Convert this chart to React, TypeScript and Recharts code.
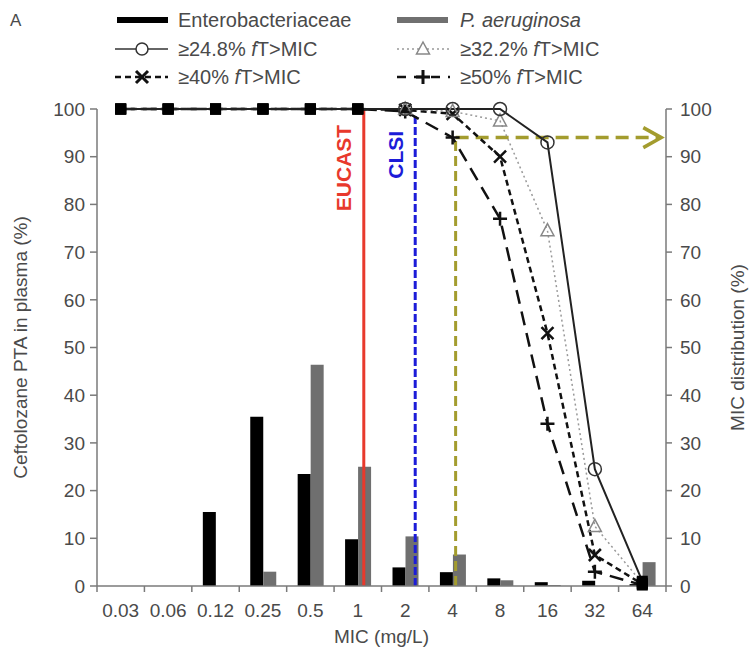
import React from "react";
import { Bar, ComposedChart, Label, Line, ReferenceLine, XAxis, YAxis } from "recharts";

// MIC categories (mg/L)
const CATS = ["0.03", "0.06", "0.12", "0.25", "0.5", "1", "2", "4", "8", "16", "32", "64"];
// MIC distribution (%), right axis
const ENTERO = [0, 0, 15.5, 35.5, 23.5, 9.8, 3.9, 2.9, 1.6, 0.8, 1.1, 0.4];
const PAERU = [0, 0, 0, 3, 46.4, 25, 10.4, 6.6, 1.2, 0.2, 0, 5];
// PTA (%), left axis
const PTA_248 = [100, 100, 100, 100, 100, 100, 100, 100, 100, 93, 24.5, 1];
const PTA_322 = [100, 100, 100, 100, 100, 100, 100, 99.5, 97.5, 74.5, 12.5, 0.6];
const PTA_40 = [100, 100, 100, 100, 100, 100, 99.8, 99, 90, 53, 6.5, 0.4];
const PTA_50 = [100, 100, 100, 100, 100, 100, 99.5, 94, 77, 34, 3, 0.2];
const Y_TICKS = [0, 10, 20, 30, 40, 50, 60, 70, 80, 90, 100];

// breakpoints
const EUCAST_MIC = "1";
const CLSI_MIC = "2";
const TARGET_MIC = "4";
const TARGET_PTA = 94;

const data = CATS.map((mic, i) => ({
  mic,
  entero: ENTERO[i],
  paeru: PAERU[i],
  p248: PTA_248[i],
  p322: PTA_322[i],
  p40: PTA_40[i],
  p50: PTA_50[i],
}));

const FONT = "'Liberation Sans', Arial, sans-serif";
const TXT = "#4a4a4a";
const AXIS = "#7a7a7a";
const OLIVE = "#a39c2e";

const isSquare = (i: number) => i <= 5 || i === CATS.length - 1;

function makeDot(kind: string) {
  return (props: any) => {
    const { cx, cy, index } = props;
    const k = `${kind}-${index}`;
    if (cx == null || cy == null) return <g key={k} />;
    if (isSquare(index)) return <rect key={k} x={cx - 5.5} y={cy - 5.5} width={11} height={11} fill="#000" />;
    if (kind === "circle") return <circle key={k} cx={cx} cy={cy} r={6.5} fill="none" stroke="#333" strokeWidth={1.5} />;
    if (kind === "tri")
      return (
        <path key={k} d={`M${cx},${cy - 7} L${cx + 6.5},${cy + 5} L${cx - 6.5},${cy + 5} Z`} fill="none" stroke="#888" strokeWidth={1.5} />
      );
    if (kind === "x")
      return (
        <path key={k} d={`M${cx - 6},${cy - 6} L${cx + 6},${cy + 6} M${cx + 6},${cy - 6} L${cx - 6},${cy + 6}`} stroke="#111" strokeWidth={2.5} />
      );
    return <path key={k} d={`M${cx - 7},${cy} L${cx + 7},${cy} M${cx},${cy - 7} L${cx},${cy + 7}`} stroke="#111" strokeWidth={2.5} />;
  };
}

function MicTick(props: any) {
  const { x, y, payload, index, width } = props;
  const half = payload?.offset || width / CATS.length / 2;
  return (
    <g>
      <line x1={x - half} x2={x - half} y1={y} y2={y + 6} stroke={AXIS} strokeWidth={1.5} />
      {index === CATS.length - 1 && <line x1={x + half} x2={x + half} y1={y} y2={y + 6} stroke={AXIS} strokeWidth={1.5} />}
      <text x={x} y={y + 31} textAnchor="middle" fill={TXT} fontSize={19} fontFamily={FONT}>
        {payload.value}
      </text>
    </g>
  );
}

// vertical breakpoint line, nudged a little right of the category centre
function breakpoint(dx: number, color: string, dash: string | undefined, text: string, labelDy: number) {
  return (p: any) => (
    <g>
      <line x1={p.x1 + dx} x2={p.x2 + dx} y1={p.y1} y2={p.y2} stroke={color} strokeWidth={3} strokeDasharray={dash} />
      {text && (
        <text
          x={p.x1 + dx - 20}
          y={Math.min(p.y1, p.y2) + labelDy}
          transform={`rotate(-90, ${p.x1 + dx - 20}, ${Math.min(p.y1, p.y2) + labelDy})`}
          textAnchor="middle"
          dominantBaseline="central"
          fill={color}
          fontSize={21}
          fontWeight="bold"
          fontFamily={FONT}
        >
          {text}
        </text>
      )}
    </g>
  );
}

function arrowShape(p: any) {
  const tip = p.x2 + 19;
  return (
    <g>
      <line x1={p.x1 + 3} x2={tip - 3} y1={p.y1} y2={p.y2} stroke={OLIVE} strokeWidth={3.5} strokeDasharray="13 7" />
      <path d={`M${tip - 18},${p.y2 - 10} L${tip},${p.y2} L${tip - 18},${p.y2 + 10}`} fill="none" stroke={OLIVE} strokeWidth={3.5} />
    </g>
  );
}

function AxisTitle({ viewBox, value, cx }: any) {
  const cy = viewBox.y + viewBox.height / 2;
  return (
    <text
      x={cx}
      y={cy}
      transform={`rotate(-90, ${cx}, ${cy})`}
      textAnchor="middle"
      dominantBaseline="central"
      fill={TXT}
      fontSize={19}
      fontFamily={FONT}
    >
      {value}
    </text>
  );
}

function LegendKey() {
  const rows = [20, 49, 77];
  const ft = (pre: string) => (
    <>
      {pre}
      <tspan fontStyle="italic">f</tspan>T&gt;MIC
    </>
  );
  return (
    <svg width={750} height={95} style={{ position: "absolute", left: 0, top: 0 }} fontFamily={FONT}>
      <text x={10} y={26} fontSize={17} fill={TXT}>A</text>
      <line x1={117} x2={168} y1={rows[0]} y2={rows[0]} stroke="#000" strokeWidth={6} />
      <text x={178} y={rows[0]} dominantBaseline="central" fontSize={20} fill={TXT}>Enterobacteriaceae</text>
      <line x1={397} x2={448} y1={rows[0]} y2={rows[0]} stroke="#707070" strokeWidth={6} />
      <text x={460} y={rows[0]} dominantBaseline="central" fontSize={20} fill={TXT} fontStyle="italic">P. aeruginosa</text>

      <line x1={115} x2={168} y1={rows[1]} y2={rows[1]} stroke="#333" strokeWidth={1.5} />
      <circle cx={142} cy={rows[1]} r={6} fill="#fff" stroke="#333" strokeWidth={1.5} />
      <text x={178} y={rows[1]} dominantBaseline="central" fontSize={20} fill={TXT}>{ft("≥24.8% ")}</text>
      <line x1={397} x2={450} y1={rows[1]} y2={rows[1]} stroke="#999" strokeWidth={1.5} strokeDasharray="2 3" />
      <path d={`M423,${rows[1] - 7} L429.5,${rows[1] + 5} L416.5,${rows[1] + 5} Z`} fill="#fff" stroke="#888" strokeWidth={1.5} />
      <text x={460} y={rows[1]} dominantBaseline="central" fontSize={20} fill={TXT}>{ft("≥32.2% ")}</text>

      <line x1={115} x2={168} y1={rows[2]} y2={rows[2]} stroke="#111" strokeWidth={2.5} strokeDasharray="6 4" />
      <path d={`M136,${rows[2] - 6} L148,${rows[2] + 6} M148,${rows[2] - 6} L136,${rows[2] + 6}`} stroke="#111" strokeWidth={3} />
      <text x={178} y={rows[2]} dominantBaseline="central" fontSize={20} fill={TXT}>{ft("≥40% ")}</text>
      <line x1={397} x2={450} y1={rows[2]} y2={rows[2]} stroke="#111" strokeWidth={2.5} strokeDasharray="9 8" />
      <path d={`M416,${rows[2]} L430,${rows[2]} M423,${rows[2] - 7} L423,${rows[2] + 7}`} stroke="#111" strokeWidth={3} />
      <text x={460} y={rows[2]} dominantBaseline="central" fontSize={20} fill={TXT}>{ft("≥50% ")}</text>
    </svg>
  );
}

export default function App() {
  return (
    <div style={{ position: "absolute", left: 0, top: 0, width: 750, height: 651, background: "#fff" }}>
      <LegendKey />
      <ComposedChart
        width={750}
        height={651}
        data={data}
        margin={{ top: 109, right: 24, bottom: 20, left: 37 }}
        barGap={0}
        style={{ position: "absolute", left: 0, top: 0 }}
      >
        <XAxis
          dataKey="mic"
          height={45}
          tickLine={false}
          tickSize={0}
          tickMargin={0}
          axisLine={{ stroke: AXIS, strokeWidth: 1.5 }}
          tick={<MicTick />}
          interval={0}
        >
          <Label
            position="bottom"
            content={({ viewBox }: any) => (
              <text x={viewBox.x + viewBox.width / 2} y={643} textAnchor="middle" fill={TXT} fontSize={19} fontFamily={FONT}>
                MIC (mg/L)
              </text>
            )}
          />
        </XAxis>
        <YAxis
          yAxisId="left"
          width={60}
          domain={[0, 100]}
          ticks={Y_TICKS}
          tickSize={7}
          tickMargin={5}
          axisLine={{ stroke: AXIS, strokeWidth: 1.5 }}
          tickLine={{ stroke: AXIS, strokeWidth: 1.5 }}
          tick={{ fill: TXT, fontSize: 19, fontFamily: FONT }}
        >
          <Label content={(p: any) => <AxisTitle {...p} value="Ceftolozane PTA in plasma (%)" cx={20} />} />
        </YAxis>
        <YAxis
          yAxisId="right"
          orientation="right"
          width={60}
          domain={[0, 100]}
          ticks={Y_TICKS}
          tickSize={6}
          tickMargin={8}
          axisLine={{ stroke: AXIS, strokeWidth: 1.5 }}
          tickLine={{ stroke: AXIS, strokeWidth: 1.5 }}
          tick={{ fill: TXT, fontSize: 19, fontFamily: FONT }}
        >
          <Label content={(p: any) => <AxisTitle {...p} value="MIC distribution (%)" cx={737} />} />
        </YAxis>

        <Bar yAxisId="right" dataKey="entero" fill="#000" barSize={13} isAnimationActive={false} />
        <Bar yAxisId="right" dataKey="paeru" fill="#6f6f6f" barSize={13} isAnimationActive={false} />

        <ReferenceLine
          yAxisId="left"
          segment={[{ x: EUCAST_MIC, y: 0 }, { x: EUCAST_MIC, y: 100 }]}
          shape={breakpoint(6, "#e8392c", undefined, "EUCAST", 59)}
        />
        <ReferenceLine
          yAxisId="left"
          segment={[{ x: CLSI_MIC, y: 0 }, { x: CLSI_MIC, y: 99 }]}
          shape={breakpoint(10, "#1c1cd8", "8 3", "CLSI", 41)}
        />
        <ReferenceLine
          yAxisId="left"
          segment={[{ x: TARGET_MIC, y: 0 }, { x: TARGET_MIC, y: TARGET_PTA }]}
          shape={breakpoint(3, OLIVE, "10 5", "", 0)}
        />
        <ReferenceLine
          yAxisId="left"
          segment={[{ x: TARGET_MIC, y: TARGET_PTA }, { x: CATS[CATS.length - 1], y: TARGET_PTA }]}
          shape={arrowShape}
        />

        <Line yAxisId="left" dataKey="p50" stroke="#111" strokeWidth={2.5} strokeDasharray="14 8" dot={makeDot("plus")} activeDot={false} isAnimationActive={false} />
        <Line yAxisId="left" dataKey="p40" stroke="#111" strokeWidth={2.5} strokeDasharray="6 4" dot={makeDot("x")} activeDot={false} isAnimationActive={false} />
        <Line yAxisId="left" dataKey="p322" stroke="#999" strokeWidth={1.5} strokeDasharray="2 3" dot={makeDot("tri")} activeDot={false} isAnimationActive={false} />
        <Line yAxisId="left" dataKey="p248" stroke="#222" strokeWidth={2} dot={makeDot("circle")} activeDot={false} isAnimationActive={false} />
      </ComposedChart>
    </div>
  );
}
